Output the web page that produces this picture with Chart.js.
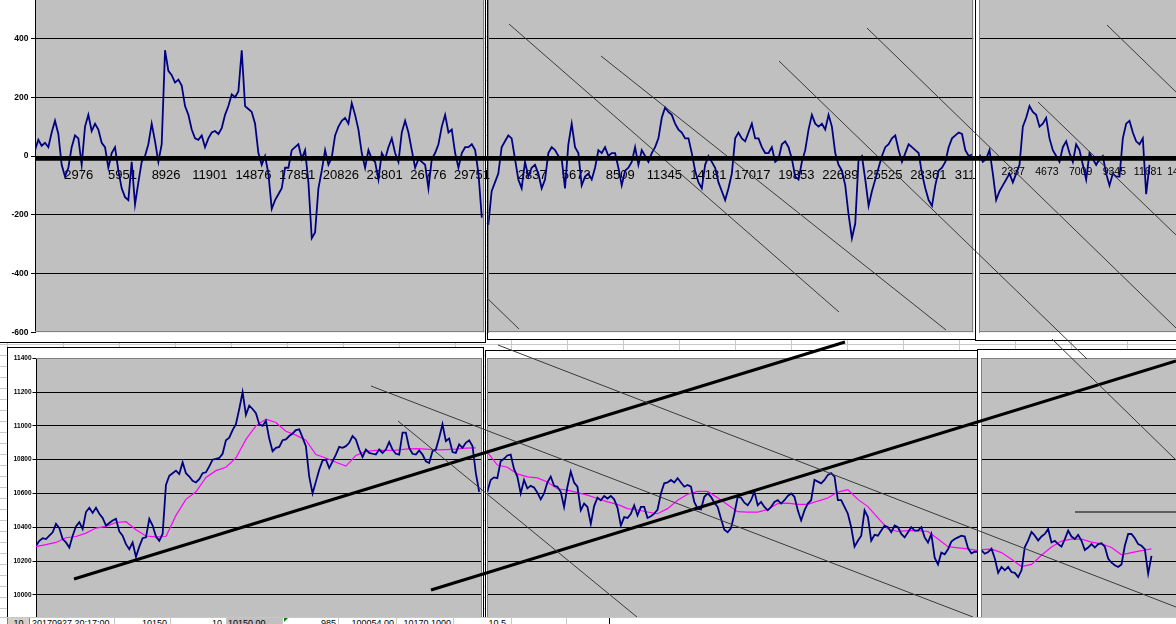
<!DOCTYPE html>
<html><head><meta charset="utf-8">
<script src="https://cdn.jsdelivr.net/npm/chart.js@4.4.1/dist/chart.umd.min.js"></script>
<style>
html,body{margin:0;padding:0;}
body{width:1176px;height:624px;overflow:hidden;position:relative;background:#fff;
 background-image:linear-gradient(to right,#c8c8c8 1px,transparent 1px),linear-gradient(to bottom,#c8c8c8 1px,transparent 1px);
 background-size:56px 11px;background-position:7px 3px;}
.frame{position:absolute;box-sizing:border-box;background:#fff;border:1px solid #000;}
.cv{position:absolute;}
#strip{position:absolute;left:0;top:617px;width:1176px;height:7px;background:#fff;border-top:1px solid #c8c8c8;z-index:30;overflow:hidden;font:9px 'Liberation Sans',Arial,sans-serif;color:#000;}
#strip .cell{position:absolute;top:0;height:12px;box-sizing:border-box;border-right:1px solid #c8c8c8;line-height:9px;padding-top:1px;white-space:nowrap;overflow:hidden;}
</style></head><body>

<div class="frame" style="left:-10px;top:-40px;width:496px;height:383px;z-index:1"></div>
<div class="frame" style="left:487px;top:-40px;width:489px;height:380px;z-index:2"></div>
<canvas id="c2" class="cv" width="487" height="364" style="left:488px;top:-24px;z-index:3"></canvas>
<canvas id="c1" class="cv" width="492" height="364" style="left:0px;top:-24px;z-index:4"></canvas>
<div class="frame" style="left:975px;top:-40px;width:300px;height:381px;z-index:5"></div>
<canvas id="c3" class="cv" width="224" height="364" style="left:976px;top:-24px;z-index:6"></canvas>

<div class="frame" style="left:7px;top:347px;width:477px;height:400px;z-index:7"></div>
<canvas id="c4" class="cv" width="476" height="282" style="left:8px;top:348px;z-index:8"></canvas>
<div class="frame" style="left:485px;top:350px;width:500px;height:400px;z-index:9"></div>
<canvas id="c5" class="cv" width="492" height="279" style="left:486px;top:351px;z-index:10"></canvas>
<div class="frame" style="left:977px;top:349px;width:300px;height:400px;z-index:11"></div>
<canvas id="c6" class="cv" width="222" height="280" style="left:978px;top:350px;z-index:12"></canvas>

<canvas id="ov" class="cv" width="1176" height="624" style="left:0;top:0;z-index:20"></canvas>

<div id="strip">
  <div class="cell" style="left:7px;width:23px;background:#d4d0c8;text-align:center;border-left:1px solid #808080;border-right:1px solid #808080;">10</div>
  <div class="cell" style="left:30px;width:85px;padding-left:2px;">20170927 20:17:00</div>
  <div class="cell" style="left:115px;width:56px;text-align:right;padding-right:3px;">10150</div>
  <div class="cell" style="left:171px;width:56px;text-align:right;padding-right:4px;">10</div>
  <div class="cell" style="left:227px;width:56px;background:#c0c0c0;padding-left:1px;">10150.00</div>
  <div class="cell" style="left:283px;width:56px;text-align:right;padding-right:2px;">985</div>
  <div style="position:absolute;left:284px;top:0;width:0;height:0;border-top:4px solid #008000;border-right:4px solid transparent;"></div>
  <div class="cell" style="left:339px;width:58px;text-align:right;padding-right:2px;">100054.00</div>
  <div class="cell" style="left:397px;width:57px;text-align:right;padding-right:2px;">10170.1000</div>
  <div class="cell" style="left:454px;width:58px;text-align:right;padding-right:5px;">10.5</div>
  <div class="cell" style="left:512px;width:55px;"></div>
  <div class="cell" style="left:567px;width:43px;border-right:1px solid #000;"></div>
</div>

<script>
// ---------- tick labels ----------
const p1Ticks = [1, 2976, 5951, 8926, 11901, 14876, 17851, 20826, 23801, 26776, 29751];
const p2Ticks = [1, 2837, 5673, 8509, 11345, 14181, 17017, 19853, 22689, 25525, 28361, 31197];
const p3Ticks = [1, 2337, 4673, 7009, 9345, 11681, 14017];
const yTicksTop = [-600, -400, -200, 0, 200, 400];
const yTicksBottom = [10000, 10200, 10400, 10600, 10800, 11000, 11200, 11400];

// ---------- top row: deviation series (read every ~3.3 px) ----------
const p1Dev = [20,55,35,45,30,80,120,75,-30,-70,
 -40,30,70,60,-30,100,140,85,110,90,
 45,30,-40,10,30,-50,-110,-140,-150,-20,
 -165,-90,-20,0,40,110,50,-20,40,360,
 290,275,250,260,240,170,140,90,60,55,
 70,30,60,80,85,75,95,140,170,210,
 200,220,360,170,160,150,110,10,-30,0,
 -60,-180,-150,-130,-110,-40,-40,20,30,40,
 -10,20,-90,-280,-260,-110,-50,20,-30,-5,
 70,100,120,130,110,180,140,90,10,-40,
 20,-10,-20,-80,10,-10,30,60,10,-20,
 80,120,80,20,-40,-10,-20,-30,-110,-10,
 10,40,100,140,80,90,10,-40,10,30,
 30,40,20,-60,-210];
const p2Dev = [-235,-120,-90,-60,30,50,70,60,-10,-80,
 -110,-20,-70,-40,-30,-60,-110,-80,10,30,
 20,0,-10,-110,40,110,30,10,-100,-70,
 -60,-80,-40,20,10,30,0,10,10,-40,
 -100,-50,-40,-20,30,-30,20,0,-20,10,
 30,60,130,165,150,140,110,90,80,60,
 60,10,-50,-90,-110,-30,0,-20,-40,-90,
 -120,-150,-110,-60,60,80,60,50,80,110,
 60,60,30,10,10,30,-20,-10,40,50,
 30,-10,-70,-80,-20,20,90,140,110,100,
 110,90,140,100,10,-30,-50,-100,-200,-280,
 -230,-10,0,-80,-170,-120,-80,-40,0,30,
 40,60,70,20,-20,10,40,30,20,10,
 -60,-110,-150,-170,-100,-50,-40,-20,30,60,
 70,80,75,20,0,5];
const p3Dev = [5,-20,-10,20,-60,-150,-120,-100,-80,-60,
 -90,-60,-30,100,130,170,150,140,100,110,
 130,60,20,0,-20,30,50,10,-20,40,
 20,-30,-80,10,-10,-30,-10,0,-60,-100,
 -60,-70,-70,60,110,120,80,50,40,60,
 -130,-30];

// ---------- bottom row: price (every ~3.3 px) and moving average (every ~10 px) ----------
const p4Price = [10290,10320,10335,10330,10350,10370,10420,10395,10330,10310,
 10280,10350,10405,10430,10390,10490,10515,10485,10515,10480,
 10455,10410,10425,10440,10450,10375,10350,10300,10270,10310,
 10225,10285,10335,10340,10450,10410,10345,10320,10360,10650,
 10705,10720,10735,10715,10785,10720,10700,10675,10665,10685,
 10720,10725,10760,10800,10805,10810,10835,10915,10930,10975,
 11010,11100,11200,11065,11120,11100,11075,11010,11000,11030,
 10925,10850,10870,10875,10915,10920,10940,10955,10975,10980,
 10930,10880,10700,10600,10670,10740,10795,10800,10750,10790,
 10830,10876,10870,10880,10900,10940,10920,10860,10815,10860,
 10840,10835,10830,10860,10840,10860,10905,10860,10835,10830,
 10960,10960,10870,10835,10830,10855,10830,10790,10780,10850,
 10860,10930,11010,10910,10925,10845,10840,10890,10870,10900,
 10915,10880,10720,10610];
const p4MA = [10285,10297,10310,10338,10345,10365,10395,10405,10428,10433,
 10385,10348,10343,10345,10470,10565,10610,10695,10735,10755,
 10810,10920,11000,11040,11020,10968,10945,10915,10830,10810,
 10785,10762,10825,10850,10855,10855,10857,10862,10865,10862,
 10858,10860,10862,10868,10870];
const p5Price = [10610,10680,10695,10690,10790,10805,10825,10830,10745,10700,
 10600,10680,10630,10645,10635,10605,10565,10600,10665,10700,
 10645,10640,10610,10520,10640,10730,10665,10640,10500,10540,
 10520,10420,10525,10575,10560,10585,10570,10585,10565,10515,
 10410,10460,10455,10480,10530,10470,10520,10520,10455,10465,
 10480,10505,10600,10660,10665,10680,10665,10690,10665,10640,
 10650,10640,10550,10510,10505,10580,10600,10580,10545,10520,
 10450,10385,10370,10395,10480,10580,10575,10545,10530,10560,
 10610,10530,10550,10520,10500,10520,10550,10560,10540,10560,
 10585,10600,10580,10500,10440,10500,10540,10560,10680,10670,
 10660,10680,10710,10720,10700,10560,10560,10520,10480,10400,
 10285,10320,10350,10500,10460,10320,10355,10350,10380,10410,
 10400,10370,10410,10400,10360,10340,10370,10400,10380,10380,
 10400,10340,10310,10360,10220,10180,10250,10240,10270,10315,
 10330,10340,10350,10345,10275,10245,10255,10255];
const p5MA = [10845,10768,10755,10716,10698,10692,10668,10628,10620,10605,
 10590,10570,10550,10535,10510,10502,10490,10480,10510,10560,
 10595,10612,10612,10575,10533,10492,10490,10490,10505,10540,
 10543,10535,10535,10555,10573,10608,10622,10565,10522,10455,
 10390,10375,10380,10380,10375,10330,10285,10278,10272,10262];
const p6Price = [10263,10243,10253,10273,10215,10130,10165,10145,10165,10135,
 10130,10105,10145,10283,10322,10372,10350,10322,10345,10360,
 10390,10310,10320,10300,10285,10330,10380,10345,10330,10355,
 10320,10265,10280,10300,10280,10300,10305,10285,10215,10190,
 10175,10165,10180,10290,10360,10360,10335,10300,10290,10270,
 10125,10230];
const p6MA = [10267,10270,10250,10210,10167,10180,10234,10283,10318,10330,
 10330,10312,10302,10280,10237,10250,10262,10272];

// ---------- drawn objects on the sheet (sheet pixel units) ----------
const thinTrendLines = [
 [509,24,839,312],[601,56,946,330],[779,61,1087,359],[867,28,1176,328],
 [1038,102,1176,235],[1107,25,1176,92],[487,298,519,329],[1052,339,1176,460],
 [498,345,1176,607],[371,386,973,617],[398,421,637,617]
];
const levelLines = [[1075,512,1176,512]];
const thickTrendLines = [[74,579,845,342],[431,590,1176,361]];
const zeroAxisLines = [[35,158.3,1176,158.3]];

// ---------- rendering ----------
const FONT = "'Liberation Sans', Arial, sans-serif";
Chart.defaults.font.family = FONT;

const plotFrame = {
  id: 'plotFrame',
  beforeDraw(chart) {
    const a = chart.chartArea, c = chart.ctx;
    c.save(); c.fillStyle = '#c0c0c0';
    c.fillRect(a.left, a.top, a.right - a.left, a.bottom - a.top);
    c.restore();
  },
  beforeDatasetsDraw(chart) {
    const a = chart.chartArea, c = chart.ctx;
    c.save(); c.strokeStyle = '#808080'; c.lineWidth = 1;
    c.beginPath();
    c.moveTo(a.left, Math.round(a.top) + 0.5); c.lineTo(a.right, Math.round(a.top) + 0.5);
    c.moveTo(Math.round(a.right) - 0.5, a.top); c.lineTo(Math.round(a.right) - 0.5, a.bottom);
    c.moveTo(a.left, Math.round(a.bottom) - 0.5); c.lineTo(a.right, Math.round(a.bottom) - 0.5);
    c.stroke(); c.restore();
  }
};

function panel(id, cfg) {
  const datasets = cfg.series.map(s => ({
    data: s.values.map((v, i) => ({x: 1 + i * s.step, y: v})),
    borderColor: s.color, borderWidth: s.width, pointRadius: 0, tension: 0, fill: false
  }));
  const showY = !!cfg.yLabelFont;
  return new Chart(document.getElementById(id), {
    type: 'line',
    data: {datasets},
    plugins: [plotFrame],
    options: {
      responsive: false, animation: false, events: [],
      layout: {padding: cfg.pad},
      plugins: {legend: {display: false}, tooltip: {enabled: false}},
      scales: {
        x: {
          type: 'linear', min: 1, max: cfg.xMax,
          display: !!cfg.xTicks,
          position: cfg.xTicks ? {y: 0} : 'bottom',
          afterBuildTicks: ax => { ax.ticks = (cfg.xTicks || []).filter(v => v > 1).map(v => ({value: v})); },
          afterFit: ax => { ax.paddingLeft = 0; ax.paddingRight = 0; ax.paddingTop = 0; ax.paddingBottom = 0; },
          grid: {display: false, drawTicks: false},
          border: {display: false},
          ticks: {autoSkip: false, maxRotation: 0, padding: cfg.xPad || 12, color: '#000',
                  font: {family: FONT, size: cfg.xFont || 13}, callback: v => String(v)}
        },
        y: {
          type: 'linear', min: cfg.yMin, max: cfg.yMax,
          afterBuildTicks: ax => { ax.ticks = cfg.yTicks.map(v => ({value: v})); },
          afterFit: ax => { ax.width = cfg.yW; ax.paddingTop = 0; ax.paddingBottom = 0; },
          grid: {
            color: c => (c.tick && (c.tick.value === cfg.yMin || c.tick.value === cfg.yMax)) ? 'rgba(0,0,0,0)' : '#000',
            lineWidth: 1, drawTicks: showY, tickLength: cfg.tickLen || 0, tickColor: '#000'
          },
          border: {display: true, color: cfg.leftColor, width: 1},
          ticks: {display: showY, padding: cfg.tickPad || 0, color: '#000',
                  font: cfg.yLabelFont || {size: 8}, callback: v => String(v)}
        }
      }
    }
  });
}

const NAVY = '#000080', MAGENTA = '#ff00ff';
const topY = {yMin: -600, yMax: 600, yTicks: yTicksTop};
const botY = {yMin: 9800, yMax: 11400, yTicks: yTicksBottom};

panel('c1', Object.assign({}, topY, {
  pad: {left: 0, top: 3.75, right: 7.7, bottom: 7.75}, yW: 35, tickLen: 4, tickPad: 2.5,
  yLabelFont: {family: FONT, size: 8.5, weight: 'bold'}, leftColor: '#000',
  xTicks: p1Ticks, xMax: 30589,
  series: [{values: p1Dev, step: 227, color: NAVY, width: 1.8}]
}));
panel('c2', Object.assign({}, topY, {
  pad: {left: 0.3, top: 3.75, right: 1.7, bottom: 7.75}, yW: 0, leftColor: '#808080',
  xTicks: p2Ticks, xMax: 31259,
  series: [{values: p2Dev, step: 215, color: NAVY, width: 1.8}]
}));
panel('c3', Object.assign({}, topY, {
  pad: {left: 3.5, top: 3.75, right: 0, bottom: 7.75}, yW: 0, leftColor: '#808080',
  xTicks: p3Ticks, xMax: 15282, xFont: 10.5, xPad: 10,
  series: [{values: p3Dev, step: 231, color: NAVY, width: 1.8}]
}));
panel('c4', Object.assign({}, botY, {
  pad: {left: 0, top: 10.3, right: 2.3, bottom: 1.4}, yW: 28, tickLen: 3.5, tickPad: 1,
  yLabelFont: {family: FONT, size: 6.5, weight: 'bold'}, leftColor: '#000',
  xMax: 30365,
  series: [{values: p4Price, step: 227, color: NAVY, width: 1.8},
           {values: p4MA, step: 681, color: MAGENTA, width: 1.2}]
}));
panel('c5', Object.assign({}, botY, {
  pad: {left: 1.3, top: 7.3, right: 0, bottom: 1.4}, yW: 0, leftColor: '#808080',
  xMax: 31601,
  series: [{values: p5Price, step: 215, color: NAVY, width: 1.8},
           {values: p5MA, step: 645, color: MAGENTA, width: 1.2}]
}));
panel('c6', Object.assign({}, botY, {
  pad: {left: 3.5, top: 8.3, right: 0, bottom: 1.4}, yW: 0, leftColor: '#808080',
  xMax: 15143,
  series: [{values: p6Price, step: 231, color: NAVY, width: 1.8},
           {values: p6MA, step: 693, color: MAGENTA, width: 1.2}]
}));

// overlay of drawn lines across the whole sheet
function lineSets(list, color, width) {
  return list.map(l => ({data: [{x: l[0], y: l[1]}, {x: l[2], y: l[3]}],
    borderColor: color, borderWidth: width, pointRadius: 0, tension: 0, fill: false, borderCapStyle: 'butt'}));
}
new Chart(document.getElementById('ov'), {
  type: 'line',
  data: {datasets: [].concat(
    lineSets(zeroAxisLines, '#000', 4.7),
    lineSets(thinTrendLines, '#3a3a3a', 1),
    lineSets(levelLines, '#606060', 2),
    lineSets(thickTrendLines, '#000', 3)
  )},
  options: {
    responsive: false, animation: false, events: [],
    layout: {padding: 0},
    plugins: {legend: {display: false}, tooltip: {enabled: false}},
    scales: {
      x: {type: 'linear', min: 0, max: 1176, display: false},
      y: {type: 'linear', min: 0, max: 624, reverse: true, display: false}
    }
  }
});
</script>
</body></html>
